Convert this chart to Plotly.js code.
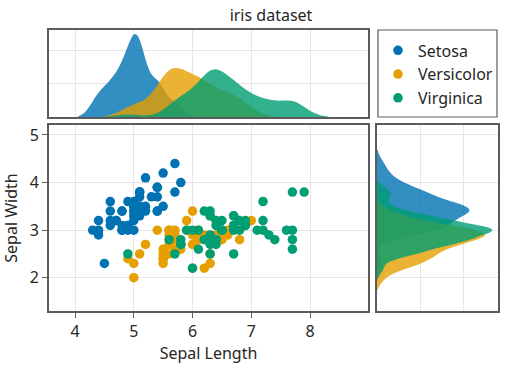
<!DOCTYPE html>
<html>
<head>
<meta charset="utf-8">
<script src="https://cdn.plot.ly/plotly-3.0.1.min.js"></script>
<style>html,body{margin:0;padding:0;background:#ffffff;}#chart{width:505px;height:371px;}</style>
</head>
<body>
<div id="chart"></div>
<script>
// Iris dataset: sepal length / sepal width per species
const species = ["Setosa", "Versicolor", "Virginica"];
const setosaSL = [5.1,4.9,4.7,4.6,5.0,5.4,4.6,5.0,4.4,4.9,5.4,4.8,4.8,4.3,5.8,5.7,5.4,5.1,5.7,5.1,5.4,5.1,4.6,5.1,4.8,5.0,5.0,5.2,5.2,4.7,4.8,5.4,5.2,5.5,4.9,5.0,5.5,4.9,4.4,5.1,5.0,4.5,4.4,5.0,5.1,4.8,5.1,4.6,5.3,5.0];
const setosaSW = [3.5,3.0,3.2,3.1,3.6,3.9,3.4,3.4,2.9,3.1,3.7,3.4,3.0,3.0,4.0,4.4,3.9,3.5,3.8,3.8,3.4,3.7,3.6,3.3,3.4,3.0,3.4,3.5,3.4,3.2,3.1,3.4,4.1,4.2,3.1,3.2,3.5,3.6,3.0,3.4,3.5,2.3,3.2,3.5,3.8,3.0,3.8,3.2,3.7,3.3];
const versicolorSL = [7.0,6.4,6.9,5.5,6.5,5.7,6.3,4.9,6.6,5.2,5.0,5.9,6.0,6.1,5.6,6.7,5.6,5.8,6.2,5.6,5.9,6.1,6.3,6.1,6.4,6.6,6.8,6.7,6.0,5.7,5.5,5.5,5.8,6.0,5.4,6.0,6.7,6.3,5.6,5.5,5.5,6.1,5.8,5.0,5.6,5.7,5.7,6.2,5.1,5.7];
const versicolorSW = [3.2,3.2,3.1,2.3,2.8,2.8,3.3,2.4,2.9,2.7,2.0,3.0,2.2,2.9,2.9,3.1,3.0,2.7,2.2,2.5,3.2,2.8,2.5,2.8,2.9,3.0,2.8,3.0,2.9,2.6,2.4,2.4,2.7,2.7,3.0,3.4,3.1,2.3,3.0,2.5,2.6,3.0,2.6,2.3,2.7,3.0,2.9,2.9,2.5,2.8];
const virginicaSL = [6.3,5.8,7.1,6.3,6.5,7.6,4.9,7.3,6.7,7.2,6.5,6.4,6.8,5.7,5.8,6.4,6.5,7.7,7.7,6.0,6.9,5.6,7.7,6.3,6.7,7.2,6.2,6.1,6.4,7.2,7.4,7.9,6.4,6.3,6.1,7.7,6.3,6.4,6.0,6.9,6.7,6.9,5.8,6.8,6.7,6.7,6.3,6.5,6.2,5.9];
const virginicaSW = [3.3,2.7,3.0,2.9,3.0,3.0,2.5,2.9,2.5,3.6,3.2,2.7,3.0,2.5,2.8,3.2,3.0,3.8,2.6,2.2,3.2,2.8,2.8,2.7,3.3,3.2,2.8,3.0,2.8,3.0,2.8,3.8,2.8,2.8,2.6,3.0,3.4,3.1,3.0,3.1,3.1,3.1,2.7,3.2,3.3,3.0,2.5,3.0,3.4,3.0];
const xTicks = [4, 5, 6, 7, 8];
const yTicks = [2, 3, 4, 5];
const densityGrid = [0.5, 1.0];

const SL = [setosaSL, versicolorSL, virginicaSL];
const SW = [setosaSW, versicolorSW, virginicaSW];
const colors = ["#0072B2", "#E69F00", "#009E73"];
const fills = ["rgba(0,114,178,0.8)", "rgba(230,159,0,0.8)", "rgba(0,158,115,0.8)"];
const bwSL = [0.123, 0.212, 0.207];
const bwSW = [0.146, 0.129, 0.115];

const FONT = "Noto Sans, Open Sans, sans-serif";
const TXT = "#262626";
const FRAME = "#5c5c5c";
const GRID = "#e6e6e6";

const data = [];
// main scatter
for (let i = 0; i < 3; i++) {
  data.push({
    type: "scatter", mode: "markers", name: species[i],
    x: SL[i], y: SW[i], xaxis: "x", yaxis: "y",
    marker: {color: colors[i], size: 9.5},
    legendgroup: "g" + i, hoverinfo: "skip"
  });
}
// top marginal: sepal length densities
for (let i = 0; i < 3; i++) {
  data.push({
    type: "violin", orientation: "h", x: SL[i], y0: 0,
    xaxis: "x2", yaxis: "y2", side: "positive",
    scalegroup: "sl", scalemode: "width", bandwidth: bwSL[i],
    points: false, fillcolor: fills[i], line: {width: 0, color: fills[i]},
    showlegend: false, hoverinfo: "skip", name: species[i] + " SL"
  });
}
// right marginal: sepal width densities
for (let i = 0; i < 3; i++) {
  data.push({
    type: "violin", orientation: "v", y: SW[i], x0: 0,
    xaxis: "x3", yaxis: "y3", side: "positive",
    scalegroup: "sw", scalemode: "width", bandwidth: bwSW[i],
    points: false, fillcolor: fills[i], line: {width: 0, color: fills[i]},
    showlegend: false, hoverinfo: "skip", name: species[i] + " SW"
  });
}

const frameAxis = {
  showline: true, mirror: true, linecolor: FRAME, linewidth: 2,
  showgrid: true, gridcolor: GRID, gridwidth: 1, zeroline: false,
  tickfont: {family: FONT, size: 16, color: TXT}
};

const layout = {
  width: 505, height: 371,
  margin: {l: 49, r: 7, t: 30, b: 60, pad: 0},
  paper_bgcolor: "#ffffff", plot_bgcolor: "#ffffff",
  font: {family: FONT, color: TXT, size: 16},
  showlegend: true,
  violinmode: "overlay", violingap: 0, violingroupgap: 0,
  title: {text: "iris dataset", x: 271 / 505, xanchor: "center", xref: "container",
          y: 1 - 15 / 371, yanchor: "middle", yref: "container",
          font: {family: FONT, size: 16, color: TXT}},
  xaxis: Object.assign({}, frameAxis, {
    domain: [0, 0.7105], anchor: "y", type: "linear", range: [3.557, 8.987],
    tickvals: xTicks, ticks: "outside", ticklen: 5, tickwidth: 1, tickcolor: FRAME,
    title: {text: "Sepal Length", font: {family: FONT, size: 16, color: TXT}, standoff: 6}
  }),
  yaxis: Object.assign({}, frameAxis, {
    domain: [0, 0.6619], anchor: "x", type: "linear", range: [1.30, 5.21],
    tickvals: yTicks, ticks: "outside", ticklen: 5, tickwidth: 1, tickcolor: FRAME,
    title: {text: "Sepal Width", font: {family: FONT, size: 16, color: TXT}, standoff: 8}
  }),
  xaxis2: Object.assign({}, frameAxis, {
    domain: [0, 0.7105], anchor: "y2", type: "linear", matches: "x",
    tickvals: xTicks, showticklabels: false, ticks: ""
  }),
  yaxis2: Object.assign({}, frameAxis, {
    domain: [0.6904, 1], anchor: "x2", type: "linear", range: [0, 0.528],
    tickvals: [0.203, 0.406], showticklabels: false, ticks: ""
  }),
  xaxis3: Object.assign({}, frameAxis, {
    domain: [0.7305, 1], anchor: "y3", type: "linear", range: [0, 0.53],
    tickvals: [0.19, 0.38], showticklabels: false, ticks: ""
  }),
  yaxis3: Object.assign({}, frameAxis, {
    domain: [0, 0.6619], anchor: "x3", type: "linear", matches: "y",
    tickvals: yTicks, showticklabels: false, ticks: ""
  }),
  shapes: [{
    type: "rect", xref: "paper", yref: "paper",
    x0: 0.7327, x1: 0.9978, y0: 0.6904, y1: 1.0,
    line: {color: FRAME, width: 1.2}, fillcolor: "#ffffff", layer: "below"
  }],
  legend: {
    x: 0.7327, xanchor: "left", y: 0.988, yanchor: "top",
    bgcolor: "rgba(0,0,0,0)", borderwidth: 0,
    font: {family: FONT, size: 16, color: TXT},
    tracegroupgap: 0, traceorder: "grouped"
  }
};

const gd = document.getElementById("chart");
Plotly.newPlot(gd, data, layout, {staticPlot: true, displayModeBar: false}).then(function () {
  // put marginal density axes into density units using the library's own KDE results
  function groupMax(idxs, fallback) {
    let m = 0;
    try {
      idxs.forEach(function (k) {
        const cd0 = gd.calcdata[k][0];
        (cd0.density || []).forEach(function (p) { if (p.v > m) m = p.v; });
      });
    } catch (e) { m = 0; }
    return m > 0 ? m : fallback;
  }
  const gTop = groupMax([3, 4, 5], 1.23);
  const gRight = groupMax([6, 7, 8], 1.32);
  const kTop = 0.5 / gTop, kRight = 0.5 / gRight; // axis units per density unit
  return Plotly.relayout(gd, {
    "yaxis2.range": [0, 1.30 * kTop],
    "yaxis2.tickvals": densityGrid.map(function (v) { return v * kTop; }),
    "xaxis3.range": [0, 1.40 * kRight],
    "xaxis3.tickvals": densityGrid.map(function (v) { return v * kRight; })
  });
});
</script>
</body>
</html>
